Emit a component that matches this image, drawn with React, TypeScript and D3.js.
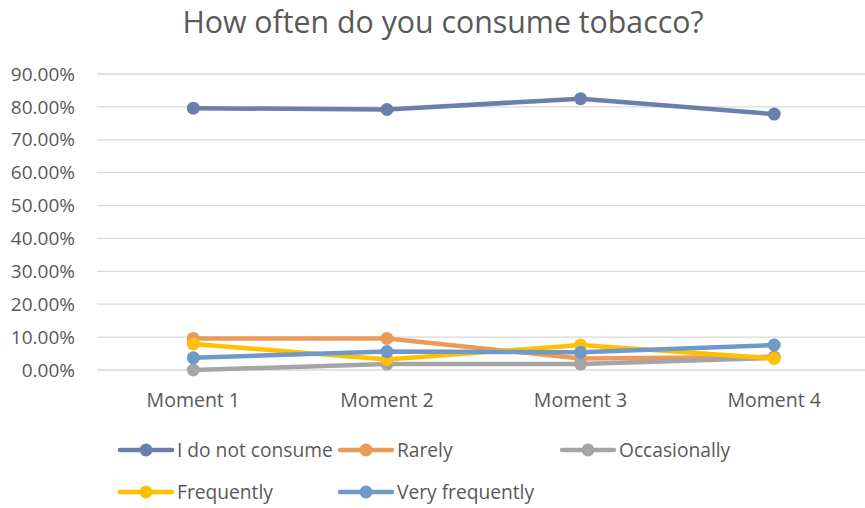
import React from "react";
import * as d3 from "d3";

const categories = ["Moment 1", "Moment 2", "Moment 3", "Moment 4"];
const seriesNames = ["I do not consume", "Rarely", "Occasionally", "Frequently", "Very frequently"];
const notConsume = [0.796, 0.792, 0.825, 0.778];
const rarely = [0.096, 0.096, 0.035, 0.04];
const occasionally = [0.0, 0.018, 0.018, 0.037];
const frequently = [0.079, 0.032, 0.076, 0.035];
const veryFrequently = [0.037, 0.056, 0.054, 0.076];
const yTicks = [0, 0.1, 0.2, 0.3, 0.4, 0.5, 0.6, 0.7, 0.8, 0.9];
const colors = ["#6a7fab", "#eb9a58", "#a5a5a5", "#ffc000", "#6f99c9"];

const allSeries = [notConsume, rarely, occasionally, frequently, veryFrequently];

const W = 865;
const H = 508;
const FONT = "'Open Sans', sans-serif";
const TEXT = "#595959";

export default function App() {
  const x = d3.scaleBand<string>().domain(categories).range([96.5, 871]);
  const y = d3.scaleLinear().domain([0, 0.9]).range([370, 74]);
  const fmt = d3.format(".2%");
  const line = d3
    .line<number>()
    .x((_, i) => (x(categories[i]) as number) + x.bandwidth() / 2)
    .y((d) => y(d));

  const legendPos = [
    { x: 120, y: 450 },
    { x: 340, y: 450 },
    { x: 562, y: 450 },
    { x: 120, y: 492 },
    { x: 340, y: 492 },
  ];

  return (
    <svg
      width={W}
      height={H}
      style={{ position: "absolute", left: 0, top: 0, background: "#fff" }}
      fontFamily={FONT}
    >
      <text x={443} y={33} textAnchor="middle" fontSize={30.3} fill={TEXT}>
        How often do you consume tobacco?
      </text>
      {yTicks.map((t) => (
        <g key={t}>
          <line x1={97} x2={W} y1={y(t)} y2={y(t)} stroke="#d9d9d9" strokeWidth={1.3} />
          <text x={75} y={y(t)} dy="0.35em" textAnchor="end" fontSize={19} fill={TEXT}>
            {fmt(t)}
          </text>
        </g>
      ))}
      {categories.map((c) => (
        <text
          key={c}
          x={(x(c) as number) + x.bandwidth() / 2}
          y={407}
          textAnchor="middle"
          fontSize={19.5}
          fill={TEXT}
        >
          {c}
        </text>
      ))}
      {allSeries.map((s, si) => (
        <g key={si}>
          <path
            d={line(s) || ""}
            fill="none"
            stroke={colors[si]}
            strokeWidth={4.5}
            strokeLinejoin="round"
            strokeLinecap="round"
          />
          {s.map((v, i) => (
            <circle
              key={i}
              cx={(x(categories[i]) as number) + x.bandwidth() / 2}
              cy={y(v)}
              r={6.5}
              fill={colors[si]}
            />
          ))}
        </g>
      ))}
      {seriesNames.map((n, i) => (
        <g key={n} transform={`translate(${legendPos[i].x},${legendPos[i].y})`}>
          <line x1={0} x2={52} y1={0} y2={0} stroke={colors[i]} strokeWidth={4.5} strokeLinecap="round" />
          <circle cx={26} cy={0} r={6.5} fill={colors[i]} />
          <text x={57} y={0} dy="0.35em" fontSize={19.2} fill={TEXT}>
            {n}
          </text>
        </g>
      ))}
    </svg>
  );
}
